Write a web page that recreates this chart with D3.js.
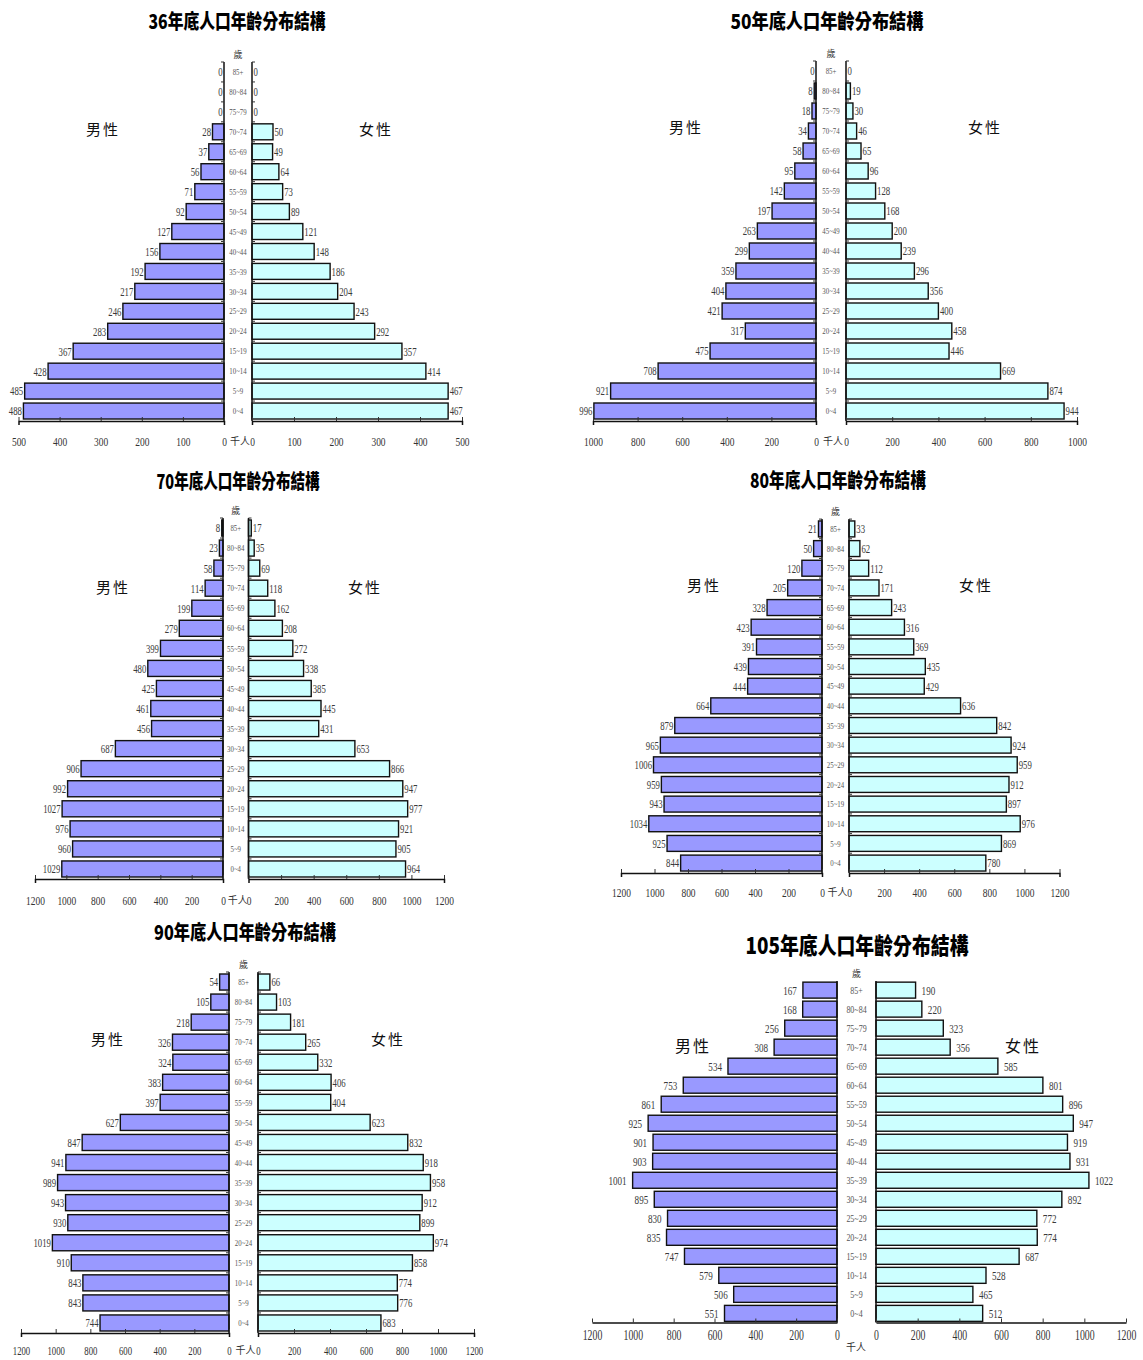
<!DOCTYPE html>
<html><head><meta charset="utf-8">
<script src="https://cdn.jsdelivr.net/npm/d3@7"></script>
<style>body{margin:0;background:#fff}</style>
</head><body>
<svg id="c" width="1143" height="1360"></svg>
<script>
// ---------- DATA ----------
const ageGroups = ["85+","80~84","75~79","70~74","65~69","60~64","55~59","50~54","45~49","40~44","35~39","30~34","25~29","20~24","15~19","10~14","5~9","0~4"];
const panelYears = ["36","50","70","80","90","105"];

const male36   = [0,0,0,28,37,56,71,92,127,156,192,217,246,283,367,428,485,488];
const female36 = [0,0,0,50,49,64,73,89,121,148,186,204,243,292,357,414,467,467];

const male50   = [0,8,18,34,58,95,142,197,263,299,359,404,421,317,475,708,921,996];
const female50 = [0,19,30,46,65,96,128,168,200,239,296,356,400,458,446,669,874,944];

const male70   = [8,23,58,114,199,279,399,480,425,461,456,687,906,992,1027,976,960,1029];
const female70 = [17,35,69,118,162,208,272,338,385,445,431,653,866,947,977,921,905,964];

const male80   = [21,50,120,205,328,423,391,439,444,664,879,965,1006,959,943,1034,925,844];
const female80 = [33,62,112,171,243,316,369,435,429,636,842,924,959,912,897,976,869,780];

const male90   = [54,105,218,326,324,383,397,627,847,941,989,943,930,1019,910,843,843,744];
const female90 = [66,103,181,265,332,406,404,623,832,918,958,912,899,974,858,774,776,683];

const male105   = [167,168,256,308,534,753,861,925,901,903,1001,895,830,835,747,579,506,551];
const female105 = [190,220,323,356,585,801,896,947,919,931,1022,892,772,774,687,528,465,512];

const ticks36 = [0,100,200,300,400,500];
const ticks50 = [0,200,400,600,800,1000];
const ticks1200 = [0,200,400,600,800,1000,1200];

const titleSuffix = "年底人口年齡分布結構";
const maleLabel = "男性";
const femaleLabel = "女性";
const ageUnit = "歲";
const popUnit = "千人";

// ---------- LAYOUT ----------
const layouts = [
  {male:male36, female:female36, ticks:ticks36, max:500,
   mL:18.5, m0:224, f0:252, fR:462, top:62, base:421, pi:0.2, po:0.1,
   title:[237,22,177,20], ml:[103,130], fl:[376,130], tickOff:20, unitXY:null,
   vTicks:true, gap:1.5, valFs:12.5, ageFs:9, tickFs:13.5, sexFs:15},
  {male:male50, female:female50, ticks:ticks50, max:1000,
   mL:593, m0:816, f0:846, fR:1077, top:61, base:421, pi:0.2, po:0.1,
   title:[827,22,193,20], ml:[686,128], fl:[985,128], tickOff:20, unitXY:null,
   vTicks:true, gap:1.5, valFs:12.5, ageFs:9, tickFs:13.5, sexFs:15},
  {male:male70, female:female70, ticks:ticks1200, max:1200,
   mL:35, m0:223, f0:248.5, fR:444, top:518, base:879, pi:0.2, po:0.1,
   title:[238,482,163,20], ml:[113,588], fl:[365,588], tickOff:21, unitXY:null,
   vTicks:true, gap:1.5, valFs:12.5, ageFs:9, tickFs:13.5, sexFs:15},
  {male:male80, female:female80, ticks:ticks1200, max:1200,
   mL:621, m0:822, f0:849, fR:1059.5, top:519, base:873, pi:0.19, po:0.1,
   title:[838,481,176,20], ml:[704,586], fl:[976,586], tickOff:19, unitXY:null,
   vTicks:true, gap:1.5, valFs:12.5, ageFs:9, tickFs:13.5, sexFs:15},
  {male:male90, female:female90, ticks:ticks1200, max:1200,
   mL:21, m0:229, f0:258, fR:474, top:972, base:1333, pi:0.2, po:0.1,
   title:[245,933,182,20], ml:[108,1040], fl:[388,1040], tickOff:17.5, unitXY:null,
   vTicks:true, gap:1.5, valFs:12.5, ageFs:9, tickFs:12.5, sexFs:15},
  {male:male105, female:female105, ticks:ticks1200, max:1200,
   mL:592, m0:837, f0:876, fR:1126, top:981, base:1322.5, pi:0.16, po:0.06,
   title:[857,946,223,23], ml:[693,1046], fl:[1023,1046], tickOff:13, unitXY:[856,1347],
   vTicks:false, gap:6, valFs:13, ageFs:10.5, tickFs:14, sexFs:16}
];

const svg = d3.select("#c");
const MALE_FILL = "#9999FF", FEMALE_FILL = "#CCFFFF";
const SERIF = "'Liberation Serif','Times New Roman',serif";
const CJK = "'Noto Sans CJK TC','Noto Sans CJK SC',sans-serif";

layouts.forEach((L, idx) => {
  const g = svg.append("g");
  const y = d3.scaleBand().domain(ageGroups).range([L.top, L.base])
    .paddingInner(L.pi).paddingOuter(L.po);
  const xm = d3.scaleLinear().domain([0, L.max]).range([L.m0, L.mL]);
  const xf = d3.scaleLinear().domain([0, L.max]).range([L.f0, L.fR]);
  const cx = (L.m0 + L.f0) / 2;

  // title
  g.append("text").attr("x", L.title[0]).attr("y", L.title[1]).attr("dy", "0.36em")
    .attr("text-anchor", "middle").attr("font-family", CJK).attr("font-weight", 900)
    .attr("font-size", L.title[3]).attr("textLength", L.title[2])
    .attr("lengthAdjust", "spacingAndGlyphs").attr("fill", "#000")
    .text(panelYears[idx] + titleSuffix);

  // sex labels
  [[L.ml, maleLabel], [L.fl, femaleLabel]].forEach(([p, t]) => {
    g.append("text").attr("x", p[0]).attr("y", p[1]).attr("dy", "0.36em")
      .attr("text-anchor", "middle").attr("font-family", CJK)
      .attr("font-size", L.sexFs).attr("letter-spacing", 2).attr("fill", "#111").text(t);
  });

  const rows = ageGroups.map((a, i) => ({age: a, m: L.male[i], f: L.female[i]}));

  // bars
  g.selectAll("rect.m").data(rows).join("rect")
    .attr("x", d => xm(d.m)).attr("y", d => y(d.age))
    .attr("width", d => xm(0) - xm(d.m)).attr("height", y.bandwidth())
    .attr("fill", MALE_FILL).attr("stroke", "#111").attr("stroke-width", 1.4);
  g.selectAll("rect.f").data(rows).join("rect")
    .attr("x", xf(0)).attr("y", d => y(d.age))
    .attr("width", d => xf(d.f) - xf(0)).attr("height", y.bandwidth())
    .attr("fill", FEMALE_FILL).attr("stroke", "#111").attr("stroke-width", 1.4);

  // value labels
  const sx = 0.7;
  g.selectAll("text.mv").data(rows).join("text")
    .attr("transform", d => `translate(${xm(d.m) - L.gap},${y(d.age) + y.bandwidth()/2}) scale(${sx},1)`)
    .attr("dy", "0.35em").attr("text-anchor", "end").attr("font-family", SERIF)
    .attr("font-size", L.valFs).attr("fill", "#3a3a3a").text(d => d.m);
  g.selectAll("text.fv").data(rows).join("text")
    .attr("transform", d => `translate(${xf(d.f) + L.gap},${y(d.age) + y.bandwidth()/2}) scale(${sx},1)`)
    .attr("dy", "0.35em").attr("text-anchor", "start").attr("font-family", SERIF)
    .attr("font-size", L.valFs).attr("fill", "#3a3a3a").text(d => d.f);

  // age labels
  g.selectAll("text.age").data(rows).join("text")
    .attr("transform", d => `translate(${cx},${y(d.age) + y.bandwidth()/2}) scale(0.76,1)`)
    .attr("dy", "0.35em").attr("text-anchor", "middle").attr("font-family", SERIF)
    .attr("font-size", L.ageFs).attr("fill", "#555").text(d => d.age);

  // age unit
  g.append("text").attr("x", cx).attr("y", L.top - 7).attr("dy", "0.35em")
    .attr("text-anchor", "middle").attr("font-family", CJK).attr("font-size", 9)
    .attr("fill", "#333").text(ageUnit);

  // vertical axes
  [L.m0, L.f0].forEach((xx, k) => {
    g.append("line").attr("x1", xx).attr("x2", xx).attr("y1", L.top).attr("y2", L.base)
      .attr("stroke", "#111").attr("stroke-width", 1.5);
    if (L.vTicks) {
      const dir = k === 0 ? -3 : 3;
      ageGroups.forEach(a => {
        const yy = y(a) - y.step() * y.paddingInner() / 2;
        g.append("line").attr("x1", xx).attr("x2", xx + dir).attr("y1", yy).attr("y2", yy)
          .attr("stroke", "#333").attr("stroke-width", 1);
      });
    }
  });

  // bottom axes
  const mkAxis = (scale) => {
    const ax = g.append("g").attr("transform", `translate(0,${L.base})`)
      .call(d3.axisBottom(scale).tickValues(L.ticks).tickSizeInner(-4).tickSizeOuter(L.vTicks ? 4 : 0).tickFormat(d3.format("d")));
    ax.select(".domain").attr("stroke", "#111").attr("stroke-width", 1.5);
    ax.selectAll(".tick line").attr("stroke", "#333");
    ax.selectAll("text").attr("y", L.tickOff).attr("dy", "0.35em")
      .attr("transform", "scale(0.7,1)")
      .attr("font-family", SERIF).attr("font-size", L.tickFs).attr("fill", "#333");
  };
  mkAxis(xm);
  mkAxis(xf);

  // population unit
  const ux = L.unitXY ? L.unitXY[0] : cx + 2;
  const uy = L.unitXY ? L.unitXY[1] : L.base + L.tickOff;
  g.append("text").attr("x", ux).attr("y", uy).attr("dy", "0.35em")
    .attr("text-anchor", "middle").attr("font-family", CJK).attr("font-size", 10)
    .attr("fill", "#333").text(popUnit);
});
</script>
</body></html>
